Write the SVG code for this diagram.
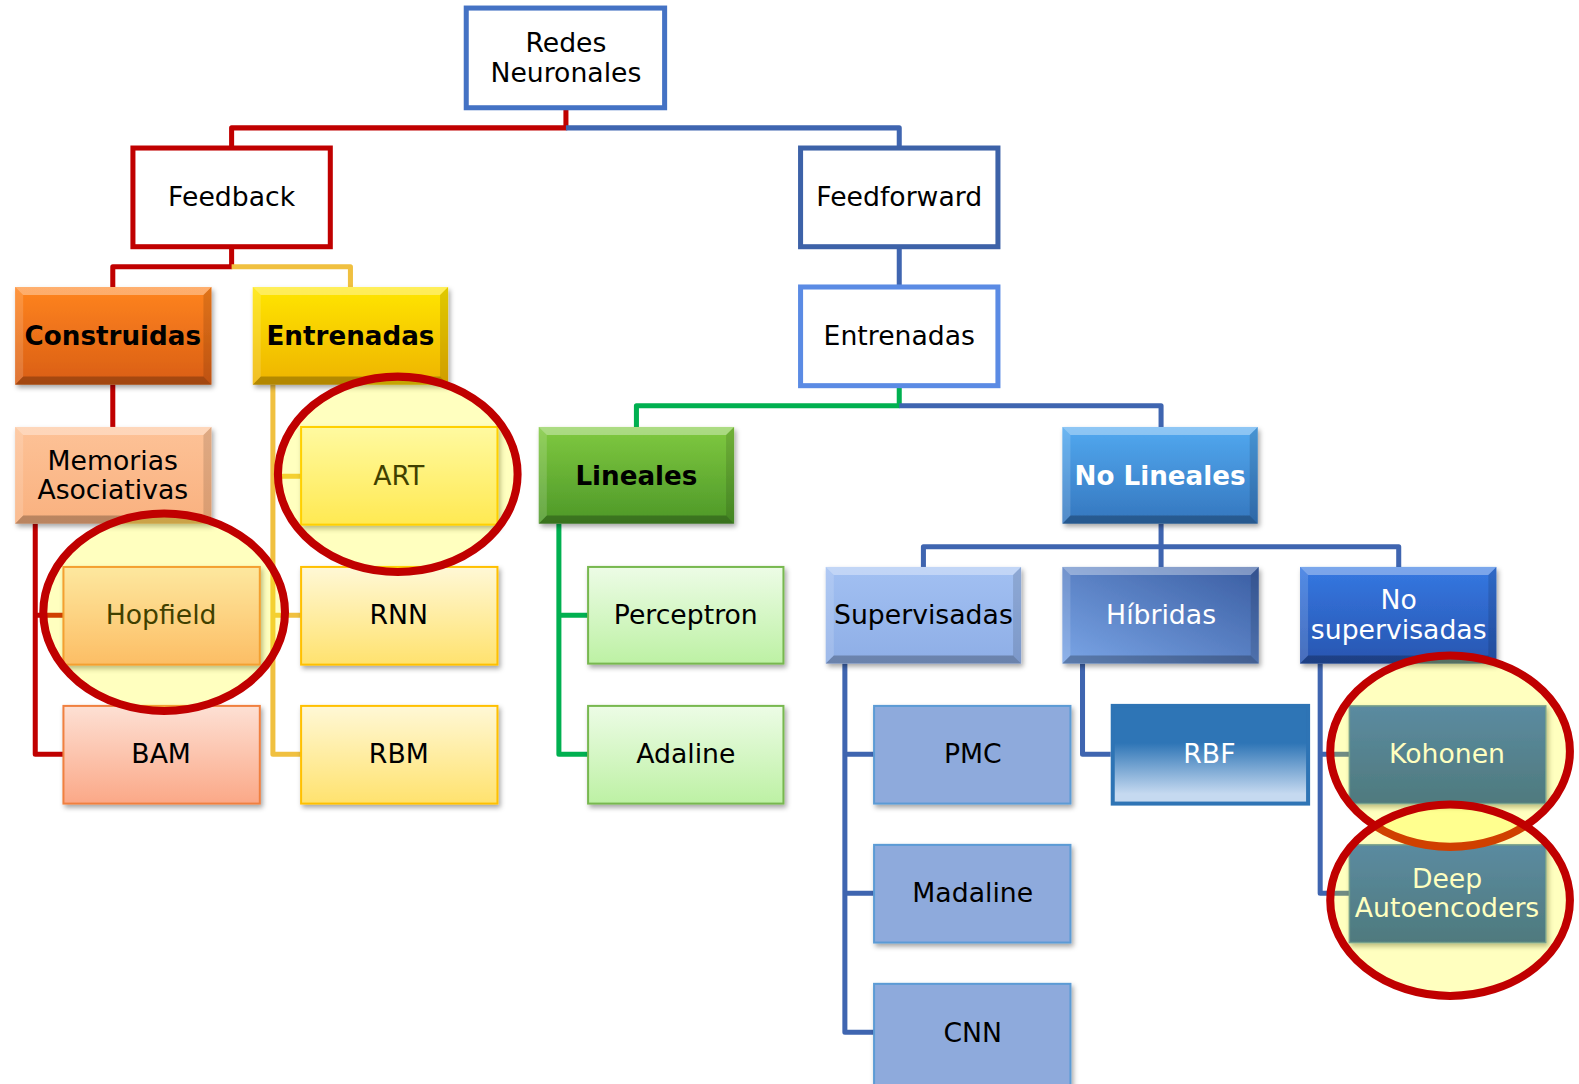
<svg xmlns="http://www.w3.org/2000/svg" width="1579" height="1084" viewBox="0 0 1579 1084">
<defs>
<filter id="sh" x="-10%" y="-10%" width="130%" height="140%">
<feDropShadow dx="2" dy="3" stdDeviation="2.5" flood-color="#000" flood-opacity="0.35"/>
</filter>
<linearGradient id="gConstr" x1="0" y1="0" x2="0" y2="1"><stop offset="0" stop-color="#ff8420"/><stop offset="1" stop-color="#d95e12"/></linearGradient>
<linearGradient id="gEntrL" x1="0" y1="0" x2="0" y2="1"><stop offset="0" stop-color="#ffe600"/><stop offset="1" stop-color="#eeb300"/></linearGradient>
<linearGradient id="gMem" x1="0" y1="0" x2="0" y2="1"><stop offset="0" stop-color="#fdc297"/><stop offset="1" stop-color="#f9b17f"/></linearGradient>
<linearGradient id="gLin" x1="0" y1="0" x2="0" y2="1"><stop offset="0" stop-color="#80c940"/><stop offset="1" stop-color="#4d9828"/></linearGradient>
<linearGradient id="gNoLin" x1="0" y1="0" x2="0" y2="1"><stop offset="0" stop-color="#52a9f0"/><stop offset="1" stop-color="#3476be"/></linearGradient>
<linearGradient id="gSup" x1="0" y1="0" x2="0" y2="1"><stop offset="0" stop-color="#a2c0f2"/><stop offset="1" stop-color="#8eaee6"/></linearGradient>
<linearGradient id="gHib" x1="0" y1="1" x2="1" y2="0"><stop offset="0" stop-color="#7aa5e6"/><stop offset="1" stop-color="#3a5da2"/></linearGradient>
<linearGradient id="gNoSup" x1="0" y1="0" x2="0" y2="1"><stop offset="0" stop-color="#3578e2"/><stop offset="1" stop-color="#2855b0"/></linearGradient>
<linearGradient id="gSalmon" x1="0" y1="0" x2="0" y2="1"><stop offset="0" stop-color="#fde0d4"/><stop offset="1" stop-color="#fba887"/></linearGradient>
<linearGradient id="gYel" x1="0" y1="0" x2="0" y2="1"><stop offset="0" stop-color="#fff8d6"/><stop offset="1" stop-color="#ffe26e"/></linearGradient>
<linearGradient id="gGrn" x1="0" y1="0" x2="0" y2="1"><stop offset="0" stop-color="#edfce6"/><stop offset="1" stop-color="#bdf1a4"/></linearGradient>
<linearGradient id="gRBF" x1="0" y1="0" x2="0" y2="1"><stop offset="0" stop-color="#2e75b6"/><stop offset="0.38" stop-color="#2e75b6"/><stop offset="0.9" stop-color="#c5d9f0"/></linearGradient>
<linearGradient id="gKoh" x1="0" y1="0" x2="0" y2="1"><stop offset="0" stop-color="#2564d6"/><stop offset="1" stop-color="#154ea8"/></linearGradient>
</defs>
<style>
.t{font-family:"DejaVu Sans",Verdana,sans-serif;font-size:26.5px;text-anchor:middle;fill:#000}
.b{font-weight:bold;font-size:26px}
.w{fill:#fff}
.c{fill:none;stroke-width:5;stroke-linejoin:round;stroke-linecap:butt}
.red{stroke:#c00000}
.blu{stroke:#3f65b0}
.yel{stroke:#f0c040}
.grn{stroke:#00b050}
.top{fill:#fff;stroke-width:5}
.sh{filter:url(#sh)}
.hl{fill:#fff;opacity:0.35}
.hl2{fill:#fff;opacity:0.15}
.dk{fill:#000;opacity:0.12}
.dk2{fill:#000;opacity:0.25}
.flat{stroke-width:2}
.ell{fill:#ffff00;fill-opacity:0.25;stroke:#c00000;stroke-width:8}
</style>
<g id="diagram" transform="scale(1.007)">
<g id="connectors">
<path class="c red" d="M562,107 V127 H230 V147"/>
<path class="c blu" d="M562,127 H893 V147"/>
<path class="c blu" d="M893,245 V285"/>
<path class="c red" d="M230,245 V265 H112 V285"/>
<path class="c yel" d="M230,265 H348 V285"/>
<path class="c red" d="M112,382 V424"/>
<path class="c red" d="M35,520 V749 H63 M35,611 H63"/>
<path class="c yel" d="M271,382 V749 H299 M271,473 H299 M271,611 H299"/>
<path class="c grn" d="M893,383 V403 H632 V424"/>
<path class="c blu" d="M893,403 H1153 V424"/>
<path class="c grn" d="M555,520 V749 H584 M555,611 H584"/>
<path class="c blu" d="M1153,520 V563 M917,563 V543 H1389 V563"/>
<path class="c blu" d="M839,659 V1025 H868 M839,749 H868 M839,887 H868"/>
<path class="c blu" d="M1075,659 V749 H1103"/>
<path class="c blu" d="M1311,659 V887 H1340 M1311,749 H1340"/>
</g>

<g id="n-redes"><rect class="top" x="463" y="8" width="197" height="99" stroke="#4472c4"/>
<text class="t" x="562" y="52">Redes</text><text class="t" x="562" y="81">Neuronales</text></g>
<g id="n-feedback"><rect class="top" x="132" y="147" width="196" height="98" stroke="#c00000"/>
<text class="t" x="230" y="205">Feedback</text></g>
<g id="n-feedforward"><rect class="top" x="795" y="147" width="196" height="98" stroke="#3d62a8"/>
<text class="t" x="893" y="205">Feedforward</text></g>
<g id="n-entrenadas-ff"><rect class="top" x="795" y="285" width="196" height="98" stroke="#5b8be4"/>
<text class="t" x="893" y="343">Entrenadas</text></g>

<g id="n-construidas"><rect class="sh" x="15" y="285" width="195" height="97" fill="url(#gConstr)"/>
<polygon class="hl" points="15,285 210,285 202,293 23,293"/><polygon class="hl2" points="15,285 23,293 23,374 15,382"/>
<polygon class="dk" points="210,285 210,382 202,374 202,293"/><polygon class="dk2" points="15,382 23,374 202,374 210,382"/>
<text class="t b" x="112" y="343">Construidas</text></g>
<g id="n-entrenadas-fb"><rect class="sh" x="251" y="285" width="194" height="97" fill="url(#gEntrL)"/>
<polygon class="hl" points="251,285 445,285 437,293 259,293"/><polygon class="hl2" points="251,285 259,293 259,374 251,382"/>
<polygon class="dk" points="445,285 445,382 437,374 437,293"/><polygon class="dk2" points="251,382 259,374 437,374 445,382"/>
<text class="t b" x="348" y="343">Entrenadas</text></g>
<g id="n-memorias"><rect class="sh" x="15" y="424" width="195" height="96" fill="url(#gMem)"/>
<polygon class="hl" points="15,424 210,424 202,432 23,432"/><polygon class="hl2" points="15,424 23,432 23,512 15,520"/>
<polygon class="dk" points="210,424 210,520 202,512 202,432"/><polygon class="dk2" points="15,520 23,512 202,512 210,520"/>
<text class="t" x="112" y="467">Memorias</text><text class="t" x="112" y="496">Asociativas</text></g>

<g id="n-hopfield"><rect class="sh flat" x="63" y="563" width="195" height="97" fill="url(#gSalmon)" stroke="#f08040"/>
<text class="t" x="160" y="620">Hopfield</text></g>
<g id="n-bam"><rect class="sh flat" x="63" y="701" width="195" height="97" fill="url(#gSalmon)" stroke="#f08040"/>
<text class="t" x="160" y="758">BAM</text></g>
<g id="n-art"><rect class="sh flat" x="299" y="424" width="195" height="97" fill="url(#gYel)" stroke="#ffc000"/>
<text class="t" x="396" y="482">ART</text></g>
<g id="n-rnn"><rect class="sh flat" x="299" y="563" width="195" height="97" fill="url(#gYel)" stroke="#ffc000"/>
<text class="t" x="396" y="620">RNN</text></g>
<g id="n-rbm"><rect class="sh flat" x="299" y="701" width="195" height="97" fill="url(#gYel)" stroke="#ffc000"/>
<text class="t" x="396" y="758">RBM</text></g>

<g id="n-lineales"><rect class="sh" x="535" y="424" width="194" height="96" fill="url(#gLin)"/>
<polygon class="hl" points="535,424 729,424 721,432 543,432"/><polygon class="hl2" points="535,424 543,432 543,512 535,520"/>
<polygon class="dk" points="729,424 729,520 721,512 721,432"/><polygon class="dk2" points="535,520 543,512 721,512 729,520"/>
<text class="t b" x="632" y="482">Lineales</text></g>
<g id="n-nolineales"><rect class="sh" x="1055" y="424" width="194" height="96" fill="url(#gNoLin)"/>
<polygon class="hl" points="1055,424 1249,424 1241,432 1063,432"/><polygon class="hl2" points="1055,424 1063,432 1063,512 1055,520"/>
<polygon class="dk" points="1249,424 1249,520 1241,512 1241,432"/><polygon class="dk2" points="1055,520 1063,512 1241,512 1249,520"/>
<text class="t b w" x="1152" y="482">No Lineales</text></g>

<g id="n-perceptron"><rect class="sh flat" x="584" y="563" width="194" height="96" fill="url(#gGrn)" stroke="#78b850"/>
<text class="t" x="681" y="620">Perceptron</text></g>
<g id="n-adaline"><rect class="sh flat" x="584" y="701" width="194" height="97" fill="url(#gGrn)" stroke="#78b850"/>
<text class="t" x="681" y="758">Adaline</text></g>

<g id="n-supervisadas"><rect class="sh" x="820" y="563" width="194" height="96" fill="url(#gSup)"/>
<polygon class="hl" points="820,563 1014,563 1006,571 828,571"/><polygon class="hl2" points="820,563 828,571 828,651 820,659"/>
<polygon class="dk" points="1014,563 1014,659 1006,651 1006,571"/><polygon class="dk2" points="820,659 828,651 1006,651 1014,659"/>
<text class="t" x="917" y="620">Supervisadas</text></g>
<g id="n-hibridas"><rect class="sh" x="1055" y="563" width="195" height="96" fill="url(#gHib)"/>
<polygon class="hl" points="1055,563 1250,563 1242,571 1063,571"/><polygon class="hl2" points="1055,563 1063,571 1063,651 1055,659"/>
<polygon class="dk" points="1250,563 1250,659 1242,651 1242,571"/><polygon class="dk2" points="1055,659 1063,651 1242,651 1250,659"/>
<text class="t w" x="1153" y="620">Híbridas</text></g>
<g id="n-nosupervisadas"><rect class="sh" x="1291" y="563" width="195" height="96" fill="url(#gNoSup)"/>
<polygon class="hl" points="1291,563 1486,563 1478,571 1299,571"/><polygon class="hl2" points="1291,563 1299,571 1299,651 1291,659"/>
<polygon class="dk" points="1486,563 1486,659 1478,651 1478,571"/><polygon class="dk2" points="1291,659 1299,651 1478,651 1486,659"/>
<text class="t w" x="1389" y="605">No</text><text class="t w" x="1389" y="635">supervisadas</text></g>

<g id="n-pmc"><rect class="sh flat" x="868" y="701" width="195" height="97" fill="#8eaadc" stroke="#5b9bd5"/>
<text class="t" x="966" y="758">PMC</text></g>
<g id="n-madaline"><rect class="sh flat" x="868" y="839" width="195" height="97" fill="#8eaadc" stroke="#5b9bd5"/>
<text class="t" x="966" y="896">Madaline</text></g>
<g id="n-cnn"><rect class="sh flat" x="868" y="977" width="195" height="112" fill="#8eaadc" stroke="#5b9bd5"/>
<text class="t" x="966" y="1035">CNN</text></g>

<g id="n-rbf"><rect x="1105" y="701" width="194" height="97" fill="url(#gRBF)" stroke="#2e74b5" stroke-width="4"/>
<text class="t w" x="1201" y="758">RBF</text></g>

<g id="n-kohonen"><rect class="sh" x="1340" y="701" width="195" height="97" fill="url(#gKoh)" stroke="#4a80b8" stroke-width="1.5"/>
<text class="t w" x="1437" y="758">Kohonen</text></g>
<g id="n-deep"><rect class="sh" x="1340" y="839" width="195" height="97" fill="url(#gKoh)" stroke="#4a80b8" stroke-width="1.5"/>
<text class="t w" x="1437" y="882">Deep</text><text class="t w" x="1437" y="911">Autoencoders</text></g>

<g id="highlights">
<ellipse class="ell" cx="163" cy="608" rx="120" ry="98"/>
<ellipse class="ell" cx="395" cy="471" rx="119" ry="97"/>
<ellipse class="ell" cx="1440" cy="746" rx="119" ry="95"/>
<ellipse class="ell" cx="1440" cy="894" rx="119" ry="95"/>
</g>
</g>
</svg>
